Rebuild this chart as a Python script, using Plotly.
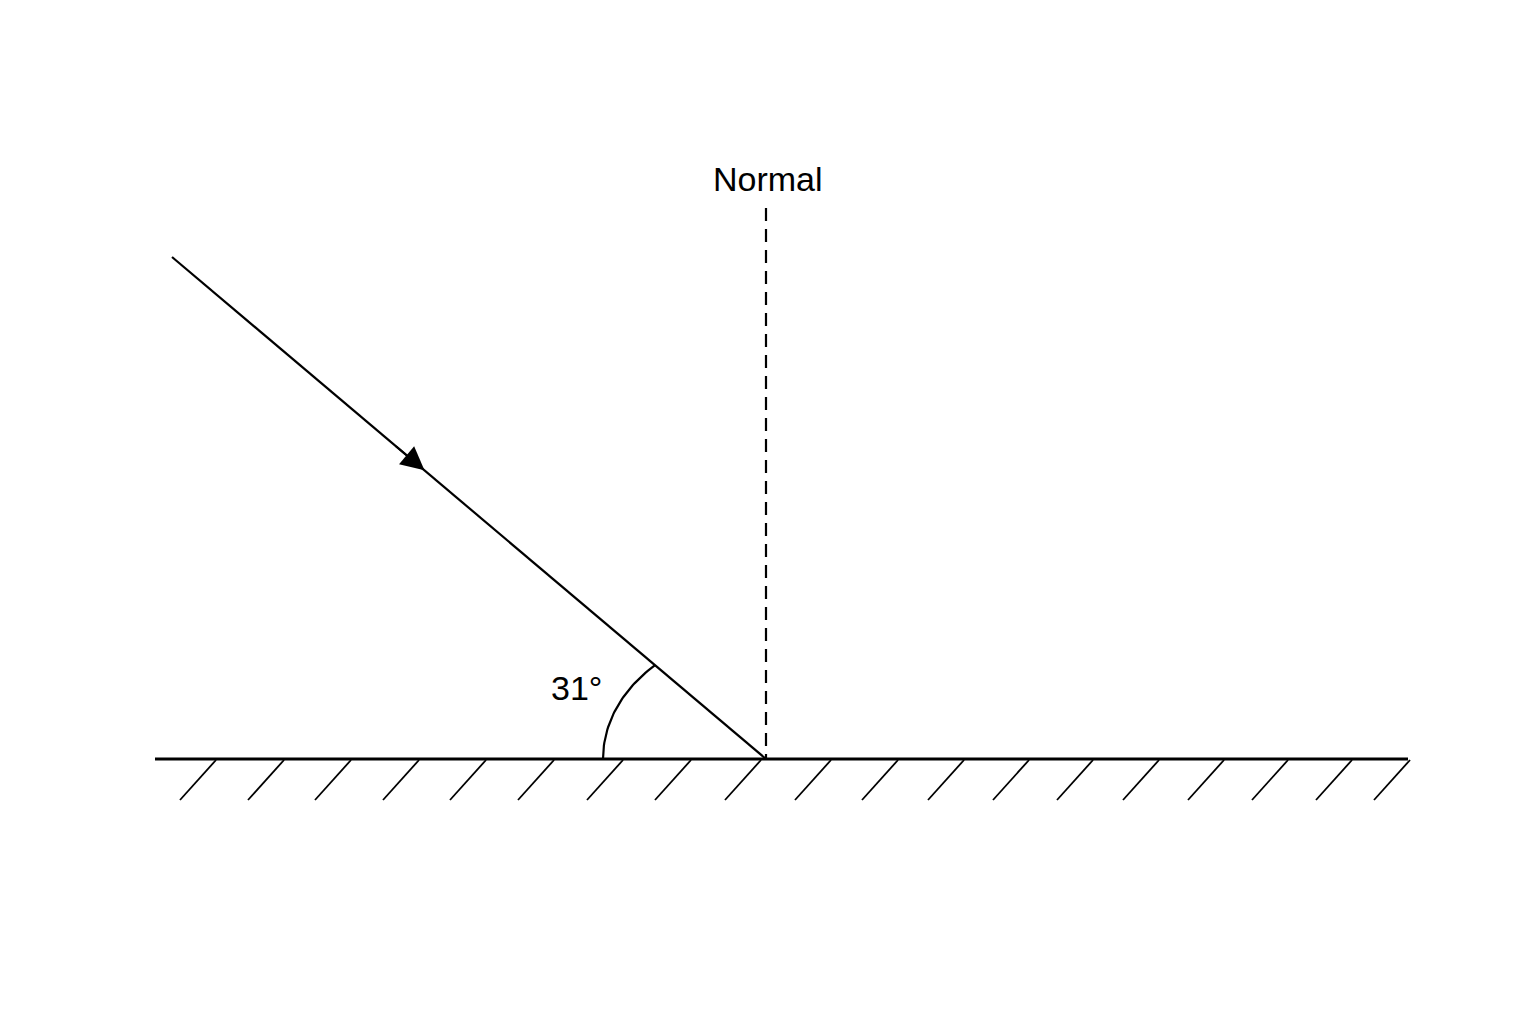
import numpy as np
import plotly.graph_objects as go

# scene geometry in page pixels (y grows downward)
mirror_x = [155, 1408]
mirror_y = 759
hatch_x = [180, 248, 315, 383, 450, 518, 587, 655, 725, 795, 862, 928, 993, 1057, 1123, 1188, 1252, 1316, 1374]
ray_x = [172, 766]
ray_y = [257, 759]
normal_x = 766
normal_top = 208
angle_label = "31°"
arc_rx = 163
arc_ry = 128

fig = go.Figure()

fig.add_trace(go.Scatter(x=mirror_x, y=[mirror_y, mirror_y], mode="lines",
                         line=dict(color="black", width=3)))

hx, hy = [], []
for x in hatch_x:
    hx += [x, x + 36, None]
    hy += [mirror_y + 41, mirror_y + 1, None]
fig.add_trace(go.Scatter(x=hx, y=hy, mode="lines", line=dict(color="black", width=1.8)))

fig.add_trace(go.Scatter(x=ray_x, y=ray_y, mode="lines", line=dict(color="black", width=2.2)))

fig.add_trace(go.Scatter(x=[normal_x, normal_x], y=[normal_top, mirror_y], mode="lines",
                         line=dict(color="black", width=2.2, dash="13px,8px")))

# angle arc between mirror and ray (elliptical, meets the ray)
dx = ray_x[1] - ray_x[0]
dy = ray_y[1] - ray_y[0]
t_end = np.arctan2(dy / arc_ry, dx / arc_rx)
t = np.linspace(0, t_end, 40)
fig.add_trace(go.Scatter(x=normal_x - arc_rx * np.cos(t),
                         y=mirror_y - arc_ry * np.sin(t), mode="lines",
                         line=dict(color="black", width=2.2)))

# arrowhead on incident ray
fx = ray_x[0] + dx * 0.425
fy = ray_y[0] + dy * 0.425
fig.add_annotation(x=fx, y=fy, ax=fx - 30, ay=fy - 25.4, xref="x", yref="y", axref="x", ayref="y",
                   text="", showarrow=True, arrowhead=2, arrowsize=2.6, arrowwidth=1.8,
                   arrowcolor="black")

fig.add_annotation(x=normal_x + 2, y=179, text="Normal", showarrow=False,
                   font=dict(size=34, color="black", family="Liberation Sans"))
fig.add_annotation(x=576, y=688, text=angle_label, showarrow=False,
                   font=dict(size=34, color="black", family="Liberation Sans"))

fig.update_layout(
    width=1536, height=1024, margin=dict(l=0, r=0, t=0, b=0),
    showlegend=False, plot_bgcolor="white", paper_bgcolor="white",
    xaxis=dict(range=[8, 1544], visible=False),
    yaxis=dict(range=[1032, 8], visible=False),
)

fig.write_html("out.html")
